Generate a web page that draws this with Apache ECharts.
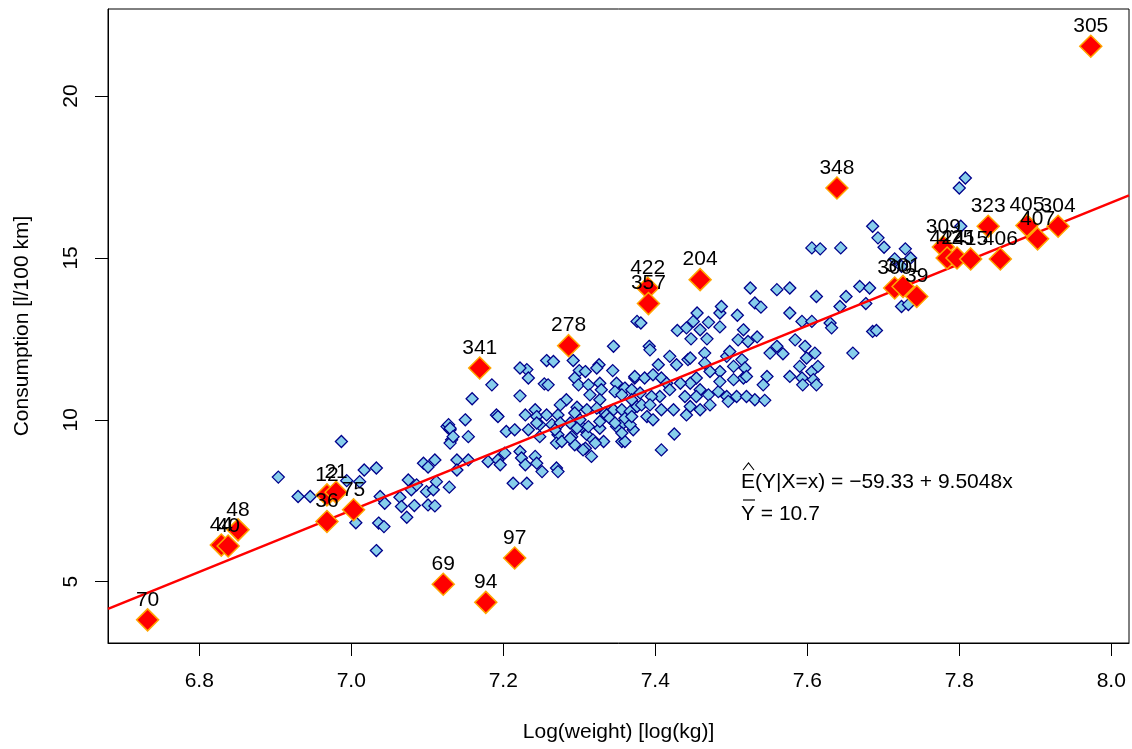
<!DOCTYPE html>
<html><head><meta charset="utf-8">
<script src="https://cdn.jsdelivr.net/npm/echarts@6/dist/echarts.min.js"></script>
<style>html,body{margin:0;padding:0;background:#fff}#c{width:1132px;height:749px}</style>
</head><body><div id="c"></div>
<script>
const xTicks=[6.8,7.0,7.2,7.4,7.6,7.8,8.0];
const yTicks=[5,10,15,20];
const xName='Log(weight) [log(kg)]';
const yName='Consumption [l/100 km]';
const intercept=-59.33, slope=9.5048, meanY=10.7;
const xRange=[6.6799,8.0233];
const yRange=[3.105,22.690];

const blueX=[6.904,6.987,6.930,6.946,6.994,7.011,7.017,7.033,7.006,7.038,7.044,7.036,7.043,7.033,7.064,7.066,7.075,7.079,7.073,7.083,7.086,7.095,7.101,7.110,7.099,7.108,7.112,7.101,7.110,7.129,7.126,7.130,7.132,7.130,7.139,7.139,
7.185,7.159,7.222,7.231,7.222,7.233,7.257,7.266,7.254,7.259,7.292,7.345,7.300,7.308,7.294,7.326,7.323,7.344,7.373,7.299,7.312,7.327,7.329,7.314,7.327,7.349,7.360,7.369,7.347,7.356,7.369,
7.191,7.193,7.229,7.242,7.244,7.257,7.272,7.283,7.275,7.297,7.310,7.323,7.334,7.345,7.356,7.367,7.376,7.150,7.128,7.130,7.134,7.154,7.204,7.215,7.233,7.248,7.248,7.264,7.272,7.270,7.288,7.290,7.294,7.303,7.310,7.308,7.318,7.316,7.327,7.332,7.336,7.349,7.358,7.356,7.371,7.360,
7.180,7.193,7.202,7.196,7.222,7.224,7.242,7.229,7.244,7.251,7.270,7.272,7.154,7.213,7.231,
7.376,7.381,7.392,7.393,7.408,7.425,7.429,7.441,7.450,7.455,7.459,7.447,7.470,7.485,7.487,7.485,7.468,7.465,7.508,7.516,7.509,7.522,7.534,7.525,7.531,7.539,7.560,7.577,7.577,7.593,7.606,7.612,7.584,7.597,7.560,7.551,7.568,7.599,7.590,7.606,7.577,7.593,7.594,7.608,7.547,7.542,7.531,7.544,
7.404,7.419,7.428,7.443,7.446,7.465,7.494,7.498,7.514,7.518,7.516,7.520,7.503,7.485,7.472,7.454,7.446,7.459,7.470,7.483,7.494,7.507,7.520,7.496,7.485,7.503,
7.373,7.386,7.397,7.408,7.415,7.433,7.419,7.406,7.395,7.380,7.382,7.393,7.408,7.424,7.439,7.446,7.454,7.459,7.472,7.441,7.389,7.397,7.367,7.360,7.356,
7.808,7.800,7.686,7.693,7.701,7.729,7.736,7.715,7.724,7.606,7.617,7.644,7.651,7.643,7.669,7.682,7.677,7.724,7.733,7.630,7.632,7.686,7.691,7.660,7.610,7.614,7.612,7.802,
7.244,7.275,7.268,7.294,7.301,7.297,7.312,7.327,7.340,7.347,7.369,7.277,7.288,7.305,7.321];
const blueY=[8.23,9.33,7.63,7.63,8.12,8.09,8.45,8.51,6.82,7.63,7.42,6.81,6.70,5.96,7.61,7.32,8.14,7.84,6.99,7.35,7.99,8.66,8.54,8.76,7.78,7.84,8.09,7.37,7.34,7.92,9.79,9.69,9.38,9.28,8.76,8.45,
11.08,10.65,10.74,11.55,11.60,11.29,11.83,11.80,11.11,11.08,11.83,12.27,11.52,11.49,11.29,11.70,11.60,11.52,11.29,11.08,11.08,11.13,10.93,10.77,10.62,11.13,10.98,10.93,10.87,10.77,10.62,
10.15,10.10,10.15,10.31,10.10,10.15,10.15,10.62,10.46,10.39,10.31,10.36,10.21,10.31,10.31,10.26,10.41,10.00,9.85,9.74,9.48,9.48,9.64,9.69,9.69,9.85,9.48,9.85,9.54,9.28,9.90,9.48,9.23,9.79,9.54,9.12,9.38,8.87,9.74,9.33,10.15,9.79,9.90,9.33,9.69,10.05,
8.71,8.76,8.97,8.61,9.02,8.82,8.87,8.61,8.66,8.40,8.51,8.40,8.76,8.04,8.04,
13.04,12.99,12.27,12.16,9.07,9.56,12.76,12.84,13.04,13.30,12.78,12.50,13.01,13.30,13.50,12.87,12.50,12.06,13.23,12.78,12.47,12.42,12.56,14.07,13.61,13.48,14.02,14.07,13.30,13.04,13.04,13.81,12.47,12.27,12.27,12.06,12.04,11.91,11.65,11.49,11.34,11.29,11.08,11.24,11.34,11.08,10.62,10.60,
11.70,11.96,11.70,11.86,11.91,11.75,11.96,12.11,11.86,11.60,11.29,11.34,11.65,11.49,11.49,11.29,11.13,10.93,10.77,10.87,10.72,10.72,10.72,10.57,11.18,11.24,
11.34,11.29,11.39,11.29,11.13,11.13,10.93,10.72,10.72,10.83,10.46,10.46,10.31,10.31,10.72,10.41,10.72,10.31,10.46,10.15,10.10,10.00,9.85,9.33,9.59,
17.47,17.16,15.98,15.62,15.33,15.28,15.00,14.97,14.74,15.31,15.28,15.31,13.81,13.50,14.12,14.07,13.59,13.50,13.56,12.99,12.84,12.73,12.76,12.06,12.06,11.65,11.08,15.98,
9.90,9.90,9.69,10.21,10.00,9.74,9.79,9.95,10.05,9.90,10.10,9.33,9.43,9.07,9.28];

const redLabels=['70','69','94','97','44','40','48','36','12','21','75','341','278','422','357','204','348','300','301','39','309','424','425','415','406','323','405','407','304','305'];
const redX=[6.732,7.121,7.177,7.215,6.829,6.838,6.851,6.968,6.968,6.980,7.003,7.169,7.286,7.390,7.391,7.459,7.639,7.715,7.726,7.744,7.779,7.784,7.797,7.815,7.854,7.838,7.889,7.903,7.930,7.973];
const redY=[3.82,4.92,4.36,5.73,6.13,6.10,6.60,6.86,7.68,7.76,7.22,11.60,12.29,14.07,13.59,14.33,17.16,14.07,14.12,13.81,15.34,15.00,15.00,14.97,14.97,15.98,16.00,15.59,15.98,21.54];

const FONT='"Liberation Sans", Arial, Helvetica, sans-serif';
const chart=echarts.init(document.getElementById('c'),null,{renderer:'canvas'});
const blueData=blueX.map((x,i)=>[x,blueY[i]]);
const redData=redX.map((x,i)=>({value:[x,redY[i]],name:redLabels[i]}));
const lineData=xRange.map(x=>[x,intercept+slope*x]);
const eqText='E(Y|X=x) = '+(intercept<0?'\u2212':'')+Math.abs(intercept).toFixed(2)+' + '+slope.toFixed(4)+'x';
const meanText='Y = '+meanY;

chart.setOption({
  animation:false,
  backgroundColor:'#fff',
  grid:{left:108,right:3,top:9,bottom:106,show:true,borderColor:'#000',borderWidth:1,backgroundColor:'transparent'},
  xAxis:{type:'value',min:xRange[0],max:xRange[1],
    name:xName,nameLocation:'middle',nameGap:79,nameTextStyle:{fontFamily:FONT,fontSize:21,color:'#000'},
    axisLine:{show:true,onZero:false,lineStyle:{color:'#000',width:1}},
    axisTick:{show:true,length:13,lineStyle:{color:'#000',width:1},customValues:xTicks},
    axisLabel:{margin:28,fontFamily:FONT,fontSize:21,color:'#000',customValues:xTicks,formatter:v=>v.toFixed(1)},
    splitLine:{show:false}},
  yAxis:{type:'value',min:yRange[0],max:yRange[1],
    name:yName,nameLocation:'middle',nameGap:75,nameTextStyle:{fontFamily:FONT,fontSize:21,color:'#000'},
    axisLine:{show:true,onZero:false,lineStyle:{color:'#000',width:1}},
    axisTick:{show:true,length:13,lineStyle:{color:'#000',width:1},customValues:yTicks},
    axisLabel:{margin:26,rotate:90,fontFamily:FONT,fontSize:21,color:'#000',customValues:yTicks,formatter:v=>String(v)},
    splitLine:{show:false}},
  series:[
    {type:'scatter',data:blueData,symbol:'diamond',symbolSize:12,z:2,
      itemStyle:{color:'#87CEEB',borderColor:'#00008B',borderWidth:1.3,opacity:1}},
    {type:'line',data:lineData,symbol:'none',z:3,lineStyle:{color:'#FF0000',width:2.5},silent:true},
    {type:'scatter',data:redData,symbol:'diamond',symbolSize:22,z:4,
      itemStyle:{color:'#FF0000',borderColor:'#FFA500',borderWidth:1.5,opacity:1},
      label:{show:true,position:'inside',offset:[0,-20],formatter:p=>p.name,fontFamily:FONT,fontSize:21,color:'#000'}}
  ],
  graphic:[
    {type:'text',x:741,y:482,z:10,style:{text:eqText,font:'21px '+FONT,fill:'#000',textVerticalAlign:'middle',verticalAlign:'middle'}},
    {type:'polyline',z:10,shape:{points:[[743,470],[748.5,463],[754,470]]},style:{stroke:'#000',lineWidth:1.1,fill:null}},
    {type:'text',x:741,y:514,z:10,style:{text:meanText,font:'21px '+FONT,fill:'#000',textVerticalAlign:'middle',verticalAlign:'middle'}},
    {type:'line',z:10,shape:{x1:743,y1:500,x2:755,y2:500},style:{stroke:'#000',lineWidth:1.2}}
  ]
});
</script></body></html>
